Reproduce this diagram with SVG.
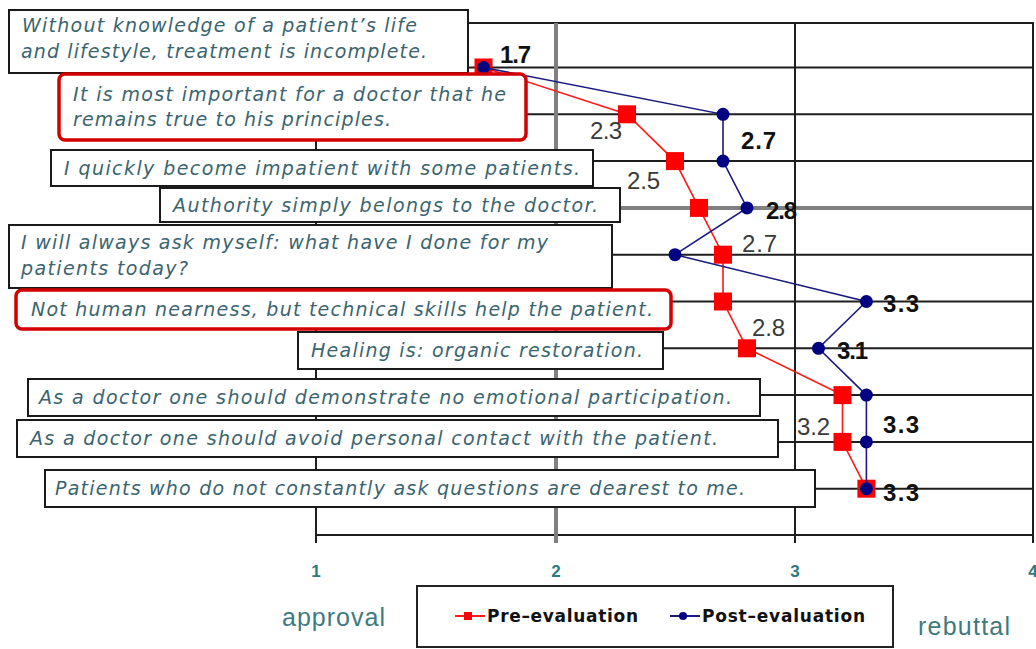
<svg xmlns="http://www.w3.org/2000/svg" width="1036" height="649" viewBox="0 0 1036 649">
<style>
.grid{stroke:#1e1e1e;stroke-width:2;fill:none}
.gridg{stroke:#808080;stroke-width:4;fill:none}
.box{fill:#fff;stroke:#1a1a1a;stroke-width:2}
.rbox{fill:#fff;stroke:#d40000;stroke-width:3.5}
.st{font-family:"DejaVu Sans",Verdana,sans-serif;font-style:italic;font-size:19px;fill:#3a6470}
.lb{font-family:"Liberation Sans",Arial,sans-serif;font-weight:bold;font-size:24px;fill:#111}
.lg{font-family:"Liberation Sans",Arial,sans-serif;font-size:24px;fill:#3a3a3a}
.ax{font-family:"Liberation Sans",Arial,sans-serif;font-weight:bold;font-size:17px;fill:#2a7a80;text-anchor:middle}
.cap{font-family:"Liberation Sans",Arial,sans-serif;font-size:25px;fill:#3e7a80}
.leg{font-family:"DejaVu Sans",Tahoma,sans-serif;font-weight:bold;font-size:17px;fill:#111}
.pre{fill:none;stroke:#ff1a1a;stroke-width:1.6}
.post{fill:none;stroke:#1a1a80;stroke-width:1.6}
.sq{fill:#ff0000}
.dot{fill:#000080}
</style>
<rect width="1036" height="649" fill="#fff"/>
<g id="grid">
<line class="grid" x1="316" y1="23" x2="1034" y2="23"/>
<line class="grid" x1="316" y1="67.5" x2="1034" y2="67.5"/>
<line class="grid" x1="316" y1="114.3" x2="1034" y2="114.3"/>
<line class="grid" x1="316" y1="161.1" x2="1034" y2="161.1"/>
<line class="gridg" x1="316" y1="207.9" x2="1034" y2="207.9"/>
<line class="grid" x1="316" y1="254.7" x2="1034" y2="254.7"/>
<line class="grid" x1="316" y1="301.5" x2="1034" y2="301.5"/>
<line class="grid" x1="316" y1="348.3" x2="1034" y2="348.3"/>
<line class="grid" x1="316" y1="395.1" x2="1034" y2="395.1"/>
<line class="grid" x1="316" y1="441.9" x2="1034" y2="441.9"/>
<line class="grid" x1="316" y1="488.7" x2="1034" y2="488.7"/>
<line class="grid" x1="316" y1="535" x2="1034" y2="535"/>
<line class="grid" x1="316" y1="23" x2="316" y2="543"/>
<line class="gridg" x1="556" y1="23" x2="556" y2="543"/>
<line class="grid" x1="795" y1="23" x2="795" y2="543"/>
<line class="grid" x1="1033" y1="23" x2="1033" y2="543"/>
</g>
<g id="connectors">
<polyline class="pre" points="483.5,67.5 627,114.3 675,161.1 699,207.9 723,254.7 723,301.5 747,348.3 842.5,395.1 842.5,441.9 866.4,488.7"/>
<g id="pre-markers" class="sq">
<rect x="474.5" y="58.5" width="18" height="18"/>
<rect x="618" y="105.3" width="18" height="18"/>
<rect x="666" y="152.1" width="18" height="18"/>
<rect x="690" y="198.9" width="18" height="18"/>
<rect x="714" y="245.7" width="18" height="18"/>
<rect x="714" y="292.5" width="18" height="18"/>
<rect x="738" y="339.3" width="18" height="18"/>
<rect x="833.5" y="386.1" width="18" height="18"/>
<rect x="833.5" y="432.9" width="18" height="18"/>
<rect x="857.4" y="479.7" width="18" height="18"/>
</g>
<polyline class="post" points="483.5,67.5 723,114.3 723,161.1 747,207.9 675,254.7 866.4,301.5 818.5,348.3 866.4,395.1 866.4,441.9 866.4,488.7"/>
<g id="post-markers" class="dot">
<circle cx="483.5" cy="67.5" r="6.5"/>
<circle cx="723" cy="114.3" r="6.5"/>
<circle cx="723" cy="161.1" r="6.5"/>
<circle cx="747" cy="207.9" r="6.5"/>
<circle cx="675" cy="254.7" r="6.5"/>
<circle cx="866.4" cy="301.5" r="6.5"/>
<circle cx="818.5" cy="348.3" r="6.5"/>
<circle cx="866.4" cy="395.1" r="6.5"/>
<circle cx="866.4" cy="441.9" r="6.5"/>
<circle cx="866.4" cy="488.7" r="6.5"/>
</g>
</g>
<g id="data-labels">
<text class="lb" x="500" y="63" textLength="31">1.7</text>
<text class="lg" x="590" y="139" textLength="32">2.3</text>
<text class="lb" x="741" y="149" textLength="35">2.7</text>
<text class="lg" x="627" y="189" textLength="33">2.5</text>
<text class="lb" x="766" y="219" textLength="31">2.8</text>
<text class="lg" x="742" y="252" textLength="35">2.7</text>
<text class="lb" x="883" y="312" textLength="36">3.3</text>
<text class="lg" x="752" y="336" textLength="33">2.8</text>
<text class="lb" x="837" y="359" textLength="31">3.1</text>
<text class="lg" x="797" y="435" textLength="33">3.2</text>
<text class="lb" x="883" y="433" textLength="36">3.3</text>
<text class="lb" x="883" y="501" textLength="36">3.3</text>
</g>
<g id="s1"><rect class="box" x="9" y="10" width="459" height="63"/>
<text class="st" x="22" y="32" textLength="395">Without knowledge of a patient’s life</text>
<text class="st" x="21" y="58" textLength="406">and lifestyle, treatment is incomplete.</text></g>
<g id="s2"><rect class="rbox" x="59" y="74" width="467" height="66" rx="6"/>
<text class="st" x="73" y="101" textLength="433">It is most important for a doctor that he</text>
<text class="st" x="73" y="126" textLength="318">remains true to his principles.</text></g>
<g id="s3"><rect class="box" x="51" y="150" width="542" height="36"/>
<text class="st" x="64" y="175" textLength="516">I quickly become impatient with some patients.</text></g>
<g id="s4"><rect class="box" x="160" y="188" width="460" height="34"/>
<text class="st" x="173" y="212" textLength="425">Authority simply belongs to the doctor.</text></g>
<g id="s5"><rect class="box" x="9" y="225" width="603" height="63"/>
<text class="st" x="21" y="249" textLength="527">I will always ask myself: what have I done for my</text>
<text class="st" x="21" y="275" textLength="167">patients today?</text></g>
<g id="s6"><rect class="rbox" x="16" y="290" width="655" height="39" rx="6"/>
<text class="st" x="31" y="316" textLength="622">Not human nearness, but technical skills help the patient.</text></g>
<g id="s7"><rect class="box" x="298" y="332" width="365" height="37"/>
<text class="st" x="311" y="357" textLength="332">Healing is: organic restoration.</text></g>
<g id="s8"><rect class="box" x="28" y="379" width="732" height="37"/>
<text class="st" x="39" y="404" textLength="693">As a doctor one should demonstrate no emotional participation.</text></g>
<g id="s9"><rect class="box" x="17" y="420" width="761" height="37"/>
<text class="st" x="30" y="445" textLength="688">As a doctor one should avoid personal contact with the patient.</text></g>
<g id="s10"><rect class="box" x="45" y="470" width="770" height="37"/>
<text class="st" x="55" y="495" textLength="690">Patients who do not constantly ask questions are dearest to me.</text></g>
<g id="axis">
<text class="ax" x="316" y="577">1</text>
<text class="ax" x="556" y="577">2</text>
<text class="ax" x="795" y="577">3</text>
<text class="ax" x="1033" y="577">4</text>
<text class="cap" x="282" y="626" textLength="103">approval</text>
<text class="cap" x="918" y="635" textLength="92">rebuttal</text>
</g>
<g id="legend">
<rect x="417" y="586" width="476" height="61" fill="#fff" stroke="#222" stroke-width="2"/>
<line x1="455" y1="616" x2="485" y2="616" stroke="#ff1a1a" stroke-width="2"/>
<rect x="464" y="612" width="8" height="8" fill="#ff0000"/>
<text class="leg" x="487" y="622" textLength="151">Pre–evaluation</text>
<line x1="670" y1="616" x2="700" y2="616" stroke="#1a1a80" stroke-width="2"/>
<circle cx="683" cy="616" r="4" fill="#000080"/>
<text class="leg" x="702" y="622" textLength="163">Post–evaluation</text>
</g>
</svg>
